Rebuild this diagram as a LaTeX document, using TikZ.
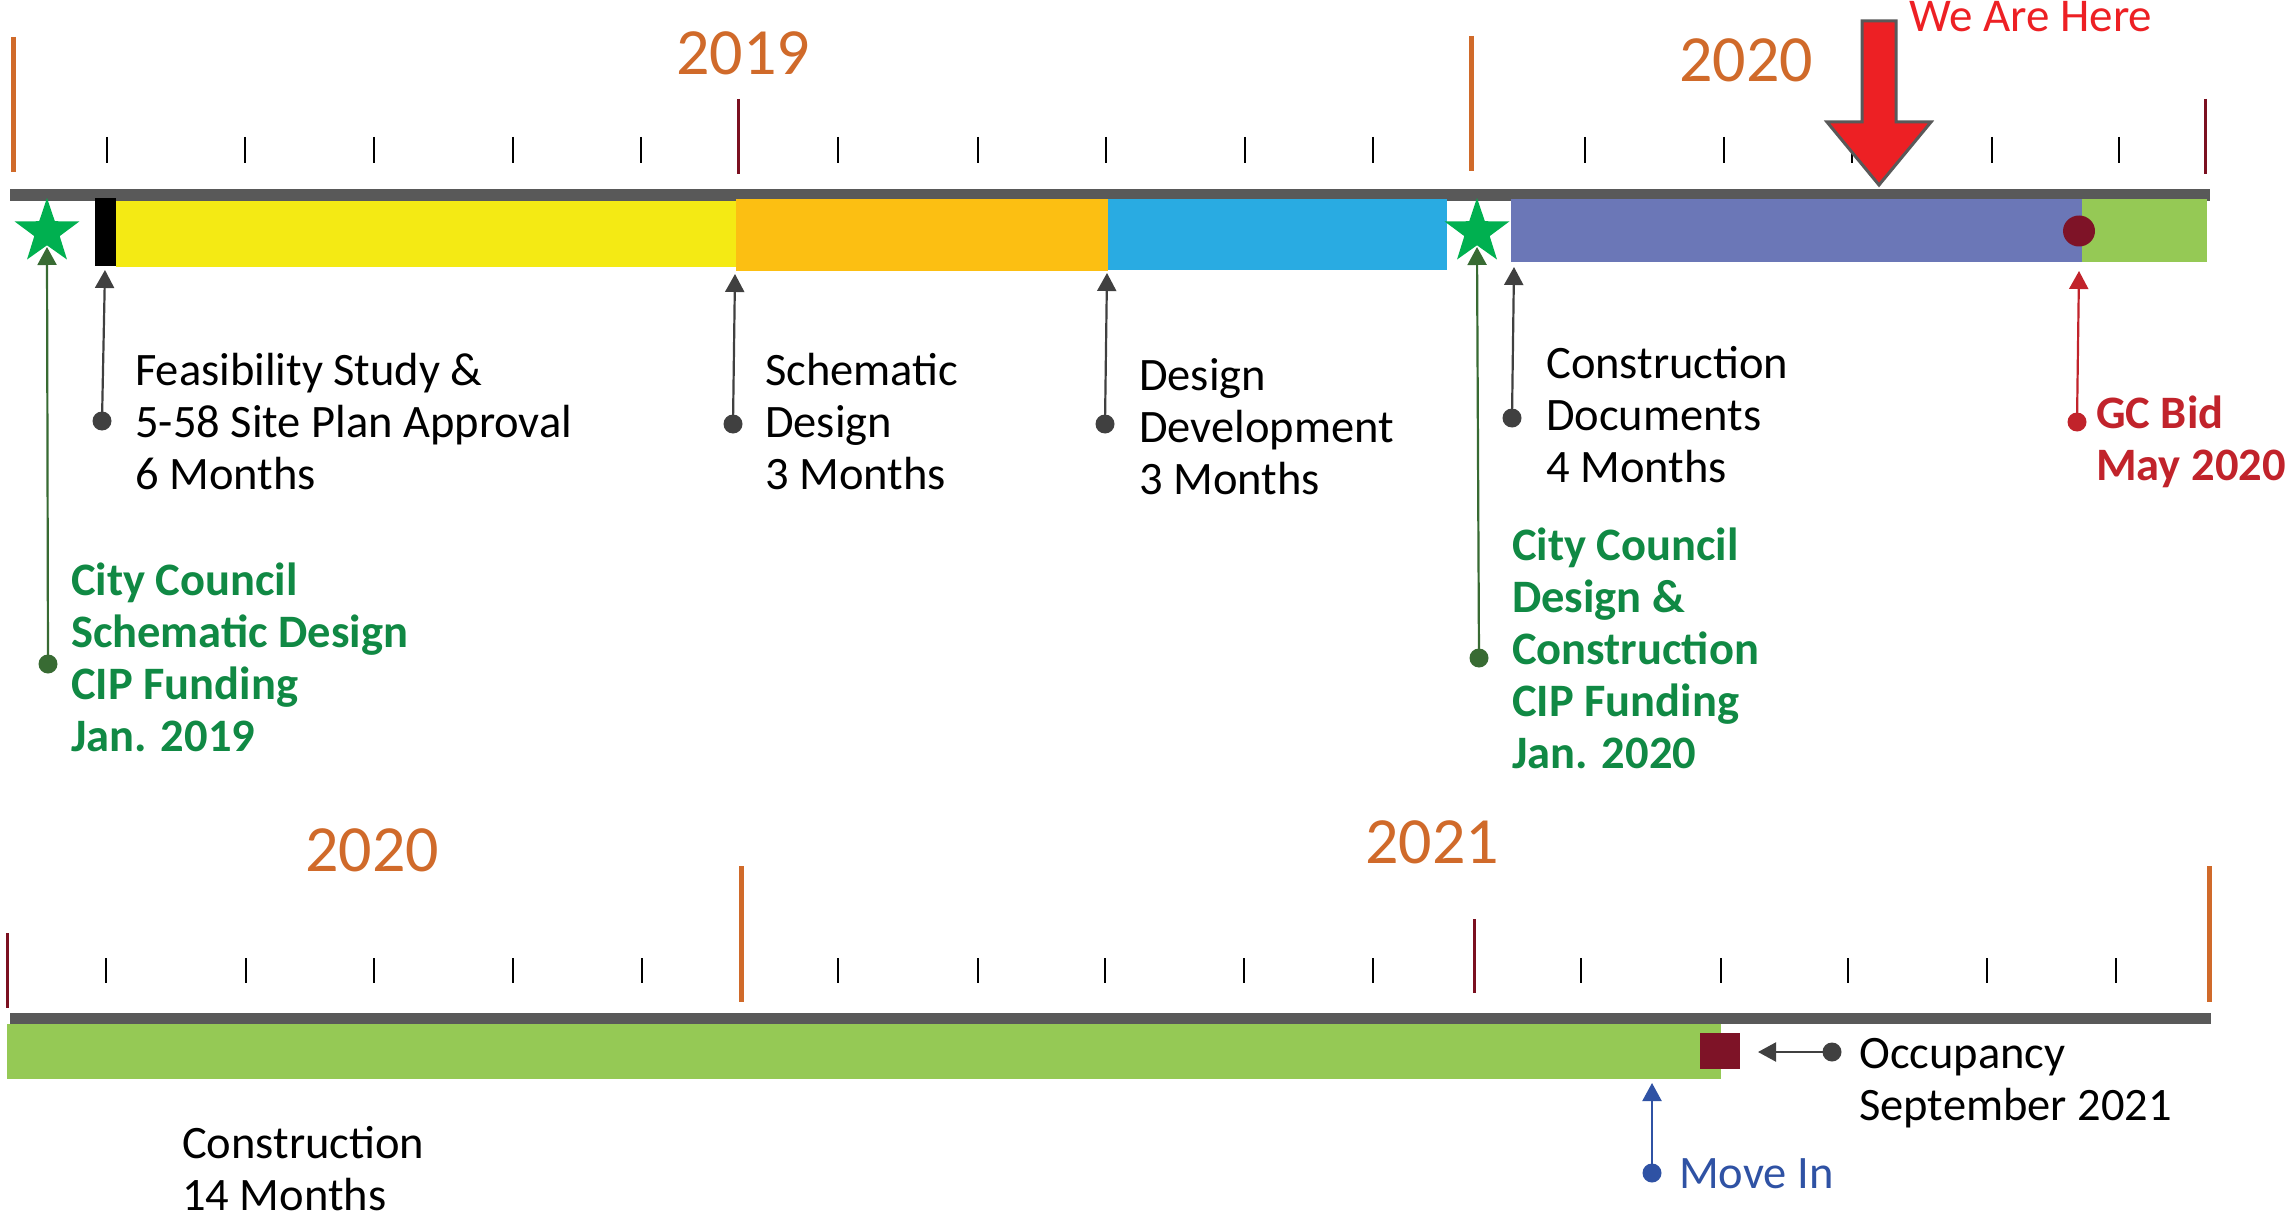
\documentclass[tikz,border=0pt]{standalone}
\usepackage{fontspec}
\setmainfont{Carlito}
\usetikzlibrary{arrows.meta,shapes.geometric}
\definecolor{yearorange}{RGB}{208,106,42}
\definecolor{tickred}{RGB}{123,16,32}
\definecolor{bargray}{RGB}{89,89,89}
\definecolor{baryellow}{RGB}{244,234,20}
\definecolor{barorange}{RGB}{252,191,18}
\definecolor{barblue}{RGB}{41,171,226}
\definecolor{barpurple}{RGB}{107,119,183}
\definecolor{bargreen}{RGB}{149,201,85}
\definecolor{stargreen}{RGB}{0,176,80}
\definecolor{textgreen}{RGB}{16,137,68}
\definecolor{conngreen}{RGB}{56,107,51}
\definecolor{conngray}{RGB}{64,64,64}
\definecolor{bidred}{RGB}{193,35,43}
\definecolor{movblue}{RGB}{47,82,164}
\definecolor{markred}{RGB}{126,19,39}
\definecolor{herered}{RGB}{237,32,36}
\begin{document}
\begin{tikzpicture}[x=1pt,y=-1pt,
  lbl/.style={anchor=base west,inner sep=0,align=left,font=\fontsize{46.5}{52}\selectfont},
  boldlbl/.style={lbl,font=\fontsize{46.5}{52}\selectfont\bfseries},
  yearlbl/.style={anchor=base,inner sep=0,text=yearorange,font=\fontsize{66}{70}\selectfont},
  majortick/.style={draw=yearorange,line width=5},
  halftick/.style={draw=tickred,line width=3},
  minortick/.style={draw=black,line width=2},
  dotnode/.style={circle,fill=#1,inner sep=0,minimum size=19},
  conn/.style={draw=#1,line width=2.2,-{Triangle[width=19,length=18]}},
  starnode/.style={star,star points=5,star point ratio=2.55,minimum size=68,inner sep=0,fill=stargreen,draw=none}]
\useasboundingbox[fill=white] (0,0) rectangle (2287,1217);

% ---------- top timeline ----------
\foreach \x in {106.6,245,374,513,641,838,977.5,1106,1245,1373,1585,1724,1852,1992,2119}
  \draw[minortick] (\x,137) -- (\x,163);
\draw[majortick] (13.8,37) -- (13.8,172);
\draw[majortick] (1471,36) -- (1471,171);
\draw[halftick] (738,99) -- (738,174);
\draw[halftick] (2205,99) -- (2205,174);
\node[yearlbl] (y2019) at (743,75) {2019};
\node[yearlbl] (y2020a) at (1746,82) {2020};

\fill[bargray] (10,189) rectangle (2210,201);
\fill[baryellow] (116,201) rectangle (736,267);
\fill[black] (95,198) rectangle (116,266);
\fill[barorange] (736,199) rectangle (1108,271);
\fill[barblue] (1108,199) rectangle (1447,270);
\fill[barpurple] (1511,199) rectangle (2082,262);
\fill[bargreen] (2082,199) rectangle (2207,262);
\fill[markred] (2079,231) ellipse [x radius=16,y radius=15.5];

\node[starnode] (star1) at (47,232) {};
\node[starnode] (star2) at (1477,232) {};

% We are here arrow
\draw[fill=herered,draw=bargray,line width=3,line join=miter]
  (1862,21) -- (1896,21) -- (1896,122) -- (1931,122) -- (1879,185) -- (1827,122) -- (1862,122) -- cycle;
\node[anchor=base west,inner sep=0,text=herered,font=\fontsize{47}{50}\selectfont] (here) at (1909,32) {We Are Here};

% connectors top
\node[dotnode=conngreen] (d1) at (48,664) {};
\coordinate (t1) at (47,247);
\draw[conn=conngreen] (d1.center) -- (t1);
\node[dotnode=conngray] (d2) at (102,421) {};
\coordinate (t2) at (105,270);
\draw[conn=conngray] (d2.center) -- (t2);
\node[dotnode=conngray] (d3) at (733,424) {};
\coordinate (t3) at (735,274);
\draw[conn=conngray] (d3.center) -- (t3);
\node[dotnode=conngray] (d4) at (1105,424) {};
\coordinate (t4) at (1107,273);
\draw[conn=conngray] (d4.center) -- (t4);
\node[dotnode=conngreen] (d5) at (1479,658) {};
\coordinate (t5) at (1477,247);
\draw[conn=conngreen] (d5.center) -- (t5);
\node[dotnode=conngray] (d6) at (1512,418) {};
\coordinate (t6) at (1514,267);
\draw[conn=conngray] (d6.center) -- (t6);
\node[dotnode=bidred] (d7) at (2077,422) {};
\coordinate (t7) at (2079,271);
\draw[conn=bidred] (d7.center) -- (t7);

% labels top (anchor at baseline of last line)
\node[lbl] (feas) at (135,489) {Feasibility Study \&\\5-58 Site Plan Approval\\6 Months};
\node[lbl] (sd) at (765,489) {Schematic\\Design\\3 Months};
\node[lbl] (dd) at (1139,494) {Design\\Development\\3 Months};
\node[lbl] (cd) at (1546,482) {Construction\\Documents\\4 Months};
\node[boldlbl,text=bidred] (gc) at (2096,480) {GC Bid\\May 2020};
\node[boldlbl,text=textgreen] (cc1) at (71,751) {City Council\\Schematic Design\\CIP Funding\\Jan. 2019};
\node[boldlbl,text=textgreen] (cc2) at (1512,768) {City Council\\Design \&\\Construction\\CIP Funding\\Jan. 2020};

% ---------- bottom timeline ----------
\foreach \x in {106,246,374,513,642,838,978,1105,1244,1373,1581,1721,1848,1987,2116}
  \draw[minortick] (\x,958) -- (\x,983);
\draw[halftick] (7,933) -- (7,1008);
\draw[halftick] (1474,919) -- (1474,993);
\draw[majortick] (741,866) -- (741,1002);
\draw[majortick] (2209,866) -- (2209,1002);
\node[yearlbl] (y2020b) at (372,871) {2020};
\node[yearlbl] (y2021) at (1432,863) {2021};

\fill[bargray] (10,1013) rectangle (2211,1024);
\fill[bargreen] (7,1024) rectangle (1721,1079);
\fill[markred] (1700,1033) rectangle (1740,1069);

\node[dotnode=conngray] (d8) at (1832,1052) {};
\coordinate (t8) at (1758,1052);
\draw[conn=conngray] (d8.center) -- (t8);
\node[dotnode=movblue] (d9) at (1652,1173) {};
\coordinate (t9) at (1652,1083);
\draw[conn=movblue] (d9.center) -- (t9);

\node[lbl] (occ) at (1859,1120) {Occupancy\\September 2021};
\node[lbl,text=movblue] (move) at (1679,1188) {Move In};
\node[lbl] (cons) at (182,1210) {Construction\\14 Months};
\end{tikzpicture}
\end{document}
